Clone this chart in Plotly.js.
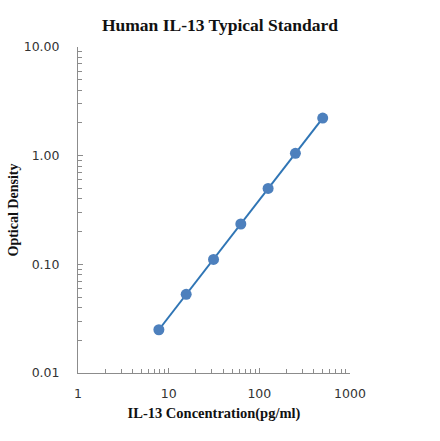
<!DOCTYPE html>
<html>
<head>
<meta charset="utf-8">
<script src="https://cdn.plot.ly/plotly-3.0.1.min.js"></script>
<style>
  html, body { margin: 0; padding: 0; background: #fff; }
  #plotlyDiv { width: 440px; height: 441px; }
</style>
</head>
<body>
<div id="plotlyDiv"></div>
<script>
// standard curve points
const concentration = [7.8, 15.6, 31.25, 62.5, 125, 250, 500]
const opticalDensity = [0.025, 0.053, 0.111, 0.235, 0.50, 1.05, 2.22]

const yTickVals = [0.01, 0.1, 1, 10]
const yTickText = ['0.01', '0.10', '1.00', '10.00']
const xTickVals = [1, 10, 100, 1000]
const xTickText = ['1', '10', '100', '1000']

const serif = 'Liberation Serif, Times New Roman, serif'
const sans = 'DejaVu Sans, Verdana, sans-serif'

// minor ticks at 2..9 of each decade
const minorBetween = decades => decades.slice(0, -1).flatMap(d => [2, 3, 4, 5, 6, 7, 8, 9].map(k => k * d))

let data = [{
  x: concentration,
  y: opticalDensity,
  mode: 'lines+markers',
  line: { color: '#2f75b5', width: 2 },
  marker: { color: '#4d80bd', size: 11 },
  hoverinfo: 'x+y'
}]

let axisCommon = {
  type: 'log',
  showgrid: false,
  zeroline: false,
  showline: true,
  linecolor: '#8c8c8c',
  linewidth: 1,
  ticks: 'inside',
  ticklen: 5,
  tickcolor: '#8c8c8c',
  tickfont: { family: sans, size: 12.5, color: '#333' }
}

let layout = {
  width: 440,
  height: 441,
  margin: { l: 78, r: 90, t: 47, b: 68 },
  paper_bgcolor: '#fff',
  plot_bgcolor: '#fff',
  showlegend: false,
  title: {
    text: '<b>Human IL-13 Typical Standard</b>',
    font: { family: serif, size: 17.5, color: '#111' },
    x: 0.5, xanchor: 'center', y: 0.943, yanchor: 'middle'
  },
  xaxis: Object.assign({}, axisCommon, {
    range: [0, 3],
    tickvals: xTickVals,
    ticktext: xTickText,
    ticklabelstandoff: 9,
    minor: { tickvals: minorBetween(xTickVals), ticks: 'inside', ticklen: 4, tickcolor: '#8c8c8c', showgrid: false },
    title: { text: '<b>IL-13 Concentration(pg/ml)</b>', font: { family: serif, size: 14.5, color: '#111' }, standoff: 7 }
  }),
  yaxis: Object.assign({}, axisCommon, {
    range: [-2, 1],
    tickvals: yTickVals,
    ticktext: yTickText,
    ticklabelstandoff: 15,
    minor: { tickvals: minorBetween(yTickVals), ticks: 'inside', ticklen: 4, tickcolor: '#8c8c8c', showgrid: false },
    title: { text: '<b>Optical Density</b>', font: { family: serif, size: 14, color: '#111' }, standoff: 1 }
  })
}

Plotly.newPlot('plotlyDiv', data, layout, { displayModeBar: false, staticPlot: true })
</script>
</body>
</html>
